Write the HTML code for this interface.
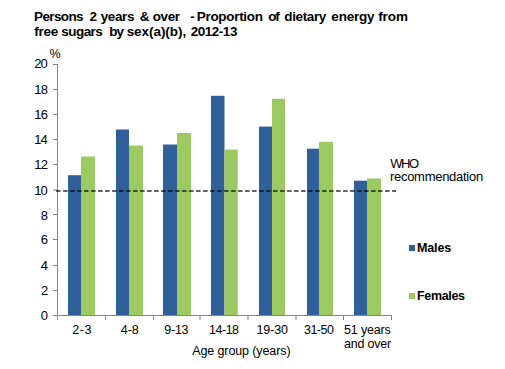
<!DOCTYPE html>
<html><head><meta charset="utf-8"><style>
html,body{margin:0;padding:0;background:#fff;}
body{width:505px;height:369px;position:relative;overflow:hidden;}
svg{position:absolute;left:0;top:0;}
text{font-family:"Liberation Sans",sans-serif;fill:#000;white-space:pre;}
</style></head><body>
<svg width="505" height="369" viewBox="0 0 505 369">
<g>
<rect x="68" y="175.2" width="13" height="140.00" fill="#30609A"/>
<rect x="81" y="156.5" width="14" height="158.70" fill="#9BCA62"/>
<rect x="116" y="129.5" width="13" height="185.70" fill="#30609A"/>
<rect x="129" y="145.6" width="14" height="169.60" fill="#9BCA62"/>
<rect x="163" y="144.5" width="14" height="170.70" fill="#30609A"/>
<rect x="177" y="133.0" width="14" height="182.20" fill="#9BCA62"/>
<rect x="211" y="95.8" width="13.5" height="219.40" fill="#30609A"/>
<rect x="224.5" y="149.6" width="13.199999999999989" height="165.60" fill="#9BCA62"/>
<rect x="259" y="126.6" width="13" height="188.60" fill="#30609A"/>
<rect x="272" y="98.8" width="13" height="216.40" fill="#9BCA62"/>
<rect x="307" y="148.7" width="12" height="166.50" fill="#30609A"/>
<rect x="319" y="141.8" width="14" height="173.40" fill="#9BCA62"/>
<rect x="354" y="180.7" width="13" height="134.50" fill="#30609A"/>
<rect x="367" y="178.5" width="14" height="136.70" fill="#9BCA62"/>
<rect x="199.5" y="315" width="1" height="5" fill="#868686"/>
<rect x="247.5" y="315" width="1" height="5" fill="#868686"/>
<rect x="295.5" y="315" width="1" height="5" fill="#868686"/>
</g>
<g shape-rendering="crispEdges">
<rect x="57" y="64" width="1" height="252" fill="#868686"/>
<rect x="57" y="315" width="335" height="1" fill="#868686"/>
<rect x="53" y="315" width="4" height="1" fill="#868686"/>
<rect x="53" y="290" width="4" height="1" fill="#868686"/>
<rect x="53" y="265" width="4" height="1" fill="#868686"/>
<rect x="53" y="239" width="4" height="1" fill="#868686"/>
<rect x="53" y="214" width="4" height="1" fill="#868686"/>
<rect x="53" y="189" width="4" height="2" fill="#C4C4C4"/>
<rect x="53" y="164" width="4" height="1" fill="#868686"/>
<rect x="53" y="139" width="4" height="1" fill="#868686"/>
<rect x="53" y="114" width="4" height="1" fill="#868686"/>
<rect x="53" y="89" width="4" height="1" fill="#868686"/>
<rect x="53" y="64" width="4" height="1" fill="#868686"/>
<rect x="57" y="315" width="1" height="5" fill="#868686"/>
<rect x="105" y="315" width="1" height="5" fill="#868686"/>
<rect x="153" y="315" width="1" height="5" fill="#868686"/>
<rect x="343" y="315" width="1" height="5" fill="#868686"/>
<rect x="391" y="315" width="1" height="5" fill="#868686"/>
<rect x="49" y="208" width="1" height="2" fill="#A9BDD9"/>
<rect x="409" y="245" width="6" height="6" fill="#30609A"/>
<rect x="409" y="293" width="6" height="6" fill="#9BCA62"/>
</g>
<line x1="56.1" y1="191" x2="396" y2="191" stroke="#000" stroke-opacity="0.62" stroke-width="2" stroke-dasharray="4.5 2.5"/>
<g>
<text x="34.10" y="21" font-size="13.5" font-weight="bold" letter-spacing="-0.636">Persons</text>
<text x="89.43" y="21" font-size="13.5" font-weight="bold">2</text>
<text x="100.69" y="21" font-size="13.5" font-weight="bold" letter-spacing="-0.382">years</text>
<text x="139.81" y="21" font-size="13.5" font-weight="bold">&amp;</text>
<text x="152.77" y="21" font-size="13.5" font-weight="bold" letter-spacing="-0.395">over</text>
<text x="190.27" y="21" font-size="13.5" font-weight="bold">-</text>
<text x="196.80" y="21" font-size="13.5" font-weight="bold" letter-spacing="-0.317">Proportion</text>
<text x="268.37" y="21" font-size="13.5" font-weight="bold" letter-spacing="-1.341">of</text>
<text x="284.25" y="21" font-size="13.5" font-weight="bold" letter-spacing="-0.357">dietary</text>
<text x="331.37" y="21" font-size="13.5" font-weight="bold" letter-spacing="-0.214">energy</text>
<text x="378.17" y="21" font-size="13.5" font-weight="bold" letter-spacing="-0.077">from</text>
<text x="34.17" y="36" font-size="13.5" font-weight="bold" letter-spacing="-0.258">free</text>
<text x="61.23" y="36" font-size="13.5" font-weight="bold" letter-spacing="-0.528">sugars</text>
<text x="109.31" y="36" font-size="13.5" font-weight="bold" letter-spacing="-0.992">by</text>
<text x="126.63" y="36" font-size="13.5" font-weight="bold" letter-spacing="-0.048">sex(a)(b),</text>
<text x="190.83" y="36" font-size="13.5" font-weight="bold" letter-spacing="-0.498">2012-13</text>
<text x="49.55" y="58" font-size="12.5">%</text>
<text x="40.78" y="320" font-size="13">0</text>
<text x="40.92" y="295" font-size="13">2</text>
<text x="40.65" y="269.5" font-size="13">4</text>
<text x="40.84" y="244.3" font-size="13">6</text>
<text x="40.83" y="219.5" font-size="13">8</text>
<text x="34.21" y="194.5" font-size="13" letter-spacing="-0.862">10</text>
<text x="34.21" y="169" font-size="13" letter-spacing="-0.716">12</text>
<text x="34.21" y="144" font-size="13" letter-spacing="-0.989">14</text>
<text x="34.21" y="119" font-size="13" letter-spacing="-0.798">16</text>
<text x="34.21" y="94" font-size="13" letter-spacing="-0.805">18</text>
<text x="34.15" y="68" font-size="13" letter-spacing="-0.798">20</text>
<text x="72.37" y="334" font-size="12.5" letter-spacing="0.556">2-3</text>
<text x="120.71" y="334" font-size="12.5" letter-spacing="-0.018">4-8</text>
<text x="164.31" y="334" font-size="12.5" letter-spacing="-0.261">9-13</text>
<text x="209.05" y="334" font-size="12.5" letter-spacing="-0.494">14-18</text>
<text x="256.45" y="334" font-size="12.5" letter-spacing="-0.107">19-30</text>
<text x="303.92" y="334" font-size="12.5" letter-spacing="-0.476">31-50</text>
<text x="344.10" y="334" font-size="12.5" letter-spacing="-0.184">51 years</text>
<text x="344.07" y="348" font-size="12.5" letter-spacing="-0.215">and over</text>
<text x="192.18" y="355" font-size="12.5" letter-spacing="-0.103">Age group (years)</text>
<text x="390.14" y="167.6" font-size="13" letter-spacing="-1.395">WHO</text>
<text x="389.94" y="181.3" font-size="13" letter-spacing="-0.278">recommendation</text>
<text x="416.96" y="252" font-size="12.5" font-weight="bold" letter-spacing="-0.098">Males</text>
<text x="416.96" y="300" font-size="12.5" font-weight="bold" letter-spacing="-0.330">Females</text>
</g>
</svg>
</body></html>
